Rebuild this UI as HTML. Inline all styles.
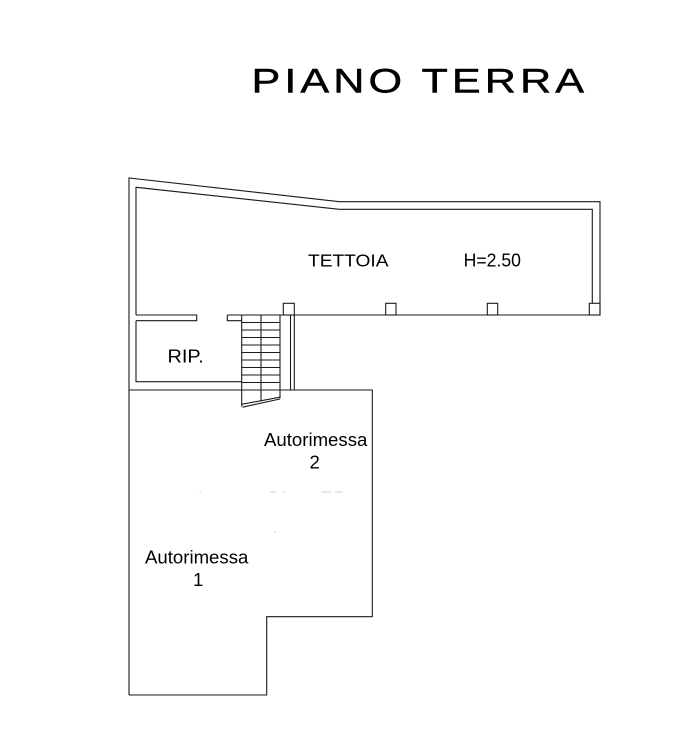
<!DOCTYPE html>
<html>
<head>
<meta charset="utf-8">
<style>
html,body{margin:0;padding:0;background:#fff;}
body{width:693px;height:742px;overflow:hidden;position:relative;}
svg{display:block;}
text{font-family:"Liberation Sans",Arial,sans-serif;fill:#000;}
</style>
</head>
<body>
<svg width="693" height="742" viewBox="0 0 693 742" xmlns="http://www.w3.org/2000/svg">
  <!-- Title -->
  <g transform="translate(251.5,92.5) scale(1.27,1)">
    <text x="0" y="0" font-size="34" letter-spacing="3.2" stroke="#000" stroke-width="0.45" stroke-linejoin="round">PIANO TERRA</text>
  </g>

  <g fill="none" stroke="#1a1a1a" stroke-width="1.1">
    <polyline points="129,695 129,178 339.3,201.7 600,201.7 600,315"/>
    <polyline points="136,315 136,187.3 339.3,209.3 592.3,209.3 592.3,303.3"/>
    <line x1="227.3" y1="315" x2="600" y2="315"/>
    <polyline points="136,315 196.7,315 196.7,320.7 136,320.7"/>
    <polyline points="227.3,315 227.3,320.7 241.7,320.7"/>
    <polyline points="136,320.7 136,381.7 241.7,381.7"/>
    <rect x="283.3" y="303.3" width="11" height="11.7"/>
    <rect x="385.7" y="303.3" width="10.3" height="11.7"/>
    <rect x="487.3" y="303.3" width="10.4" height="11.7"/>
    <rect x="589.3" y="303.3" width="10.7" height="11.7"/>
    <line x1="290.5" y1="315" x2="290.5" y2="390"/>
    <line x1="294.3" y1="315" x2="294.3" y2="390"/>
    <polyline points="129,390 372.3,390 372.3,616.7 266.7,616.7 266.7,695 129,695"/>
    <line x1="241.7" y1="315" x2="241.7" y2="406.5"/>
    <line x1="261" y1="315" x2="261" y2="401.5"/>
    <line x1="280" y1="315" x2="280" y2="398.3"/>
    <line x1="241.7" y1="322.5" x2="280" y2="322.5"/>
    <line x1="241.7" y1="330" x2="280" y2="330"/>
    <line x1="241.7" y1="337.5" x2="280" y2="337.5"/>
    <line x1="241.7" y1="345" x2="280" y2="345"/>
    <line x1="241.7" y1="352.5" x2="280" y2="352.5"/>
    <line x1="241.7" y1="360" x2="280" y2="360"/>
    <line x1="241.7" y1="367.5" x2="280" y2="367.5"/>
    <line x1="241.7" y1="375" x2="280" y2="375"/>
    <line x1="241.7" y1="382.5" x2="280" y2="382.5"/>
    <line x1="241.7" y1="404.3" x2="280" y2="397.2"/>
    <line x1="242.5" y1="407.2" x2="280" y2="399"/>
  </g>

  <g stroke="#cfcfcf" stroke-width="1">
    <line x1="199.5" y1="492" x2="201" y2="492"/>
    <line x1="270" y1="492" x2="276" y2="492"/>
    <line x1="283" y1="492" x2="286" y2="492"/>
    <line x1="321" y1="492" x2="331" y2="492"/>
    <line x1="335" y1="492" x2="343" y2="492"/>
    <line x1="274" y1="532" x2="276.5" y2="532"/>
  </g>

  <g transform="translate(308,266.7) scale(1.065,1)"><text x="0" y="0" font-size="18">TETTOIA</text></g>
  <g transform="translate(463.6,266.7) scale(0.98,1)"><text x="0" y="0" font-size="18">H=2.50</text></g>
  <g transform="translate(167.5,362.5) scale(1.07,1)"><text x="0" y="0" font-size="18.6">RIP.</text></g>
  <text x="264" y="446" font-size="18.6">Autorimessa</text>
  <text x="309.5" y="468.3" font-size="18.6">2</text>
  <text x="145" y="563.3" font-size="18.6">Autorimessa</text>
  <text x="193" y="586" font-size="18.6">1</text>
</svg>
</body>
</html>
